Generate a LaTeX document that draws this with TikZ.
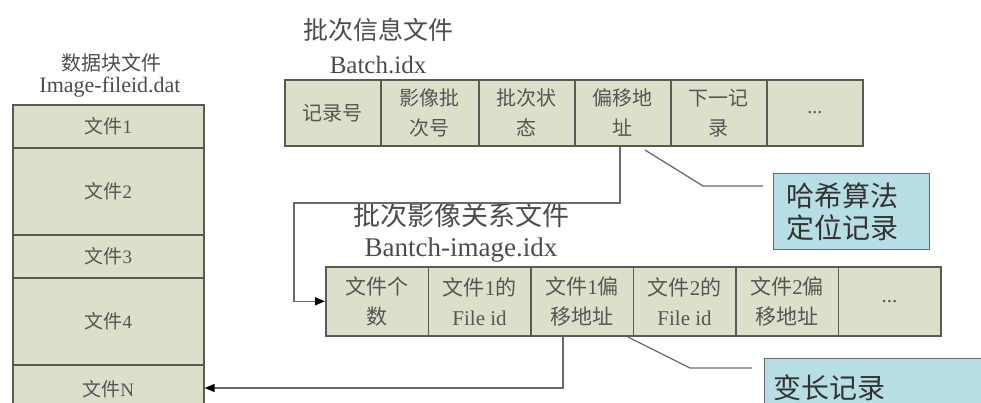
\documentclass[tikz,border=0pt]{standalone}
\usepackage{fontspec}
\setmainfont{Liberation Serif}
\newfontfamily\cjk{Noto Sans CJK SC}
\usetikzlibrary{arrows.meta}
\definecolor{cellfill}{HTML}{DEDFCB}
\definecolor{notefill}{HTML}{B8DEE5}
\definecolor{edge}{HTML}{5A5A55}
\definecolor{ink}{HTML}{555555}
\definecolor{wire}{HTML}{6A6A6A}
\newcommand{\zh}[1]{{\cjk #1}}
\begin{document}
\begin{tikzpicture}[x=1pt,y=-1pt,
  cell/.style={draw=edge, line width=1.6pt, fill=cellfill, inner sep=0pt,
    text=ink, align=center, anchor=north west,
    font=\fontsize{20}{30}\selectfont},
  blockcell/.style={cell, minimum width=191pt, font=\fontsize{19}{22}\selectfont},
  rowcell/.style={cell, minimum height=66pt},
  relcell/.style={cell, minimum height=69pt, minimum width=102.5pt,
    font=\fontsize{21}{30}\selectfont},
  note/.style={draw=wire, line width=1.2pt, fill=notefill, inner sep=0pt,
    anchor=north west},
  notetext/.style={anchor=west, inner sep=0pt, align=left, text=black!80,
    font=\fontsize{28}{32}\selectfont\cjk},
  title/.style={text=black!70, inner sep=0pt},
  wireline/.style={draw=wire, line width=1.3pt},
  arrowline/.style={wireline, -{Triangle[length=10pt,width=8pt,color=black,fill=black]}}
]
\useasboundingbox (0,0) rectangle (981,403);
\clip (0,0) rectangle (981,403);

% data block file
\node[title, font=\fontsize{20}{22}\selectfont\cjk] (dtitle) at (111,63) {数据块文件};
\node[title, font=\fontsize{22}{24}\selectfont] (dname) at (110,87) {Image-fileid.dat};
\node[blockcell, minimum height=43pt] (f1) at (12,104) {\zh{文件}1};
\node[blockcell, minimum height=87pt] (f2) at (12,147) {\zh{文件}2};
\node[blockcell, minimum height=43pt] (f3) at (12,234) {\zh{文件}3};
\node[blockcell, minimum height=87pt] (f4) at (12,277) {\zh{文件}4};
\node[blockcell, minimum height=48pt] (fN) at (12,364) {\zh{文件}N};

% batch information file
\node[title, font=\fontsize{25}{28}\selectfont\cjk] (btitle) at (378,30) {批次信息文件};
\node[title, font=\fontsize{25}{28}\selectfont] (bname) at (378,65) {Batch.idx};
\node[rowcell, minimum width=96pt] (b1) at (284,79) {\zh{记录号}};
\node[rowcell, minimum width=98pt] (b2) at (380,79) {\zh{影像批}\\\zh{次号}};
\node[rowcell, minimum width=96pt] (b3) at (478,79) {\zh{批次状}\\\zh{态}};
\node[rowcell, minimum width=96pt] (b4) at (574,79) {\zh{偏移地}\\\zh{址}};
\node[rowcell, minimum width=96pt] (b5) at (670,79) {\zh{下一记}\\\zh{录}};
\node[rowcell, minimum width=96pt] (b6) at (766,79) {...};

% batch-image relation file
\node[title, font=\fontsize{27}{30}\selectfont\cjk] (rtitle) at (461,215) {批次影像关系文件};
\node[title, font=\fontsize{27}{30}\selectfont] (rname) at (461,250) {Bantch-image.idx};
\node[relcell] (c1) at (325,266) {\zh{文件个}\\\zh{数}};
\node[relcell] (c2) at (427.5,266) {\zh{文件}1\zh{的}\\File id};
\node[relcell] (c3) at (530,266) {\zh{文件}1\zh{偏}\\\zh{移地址}};
\node[relcell] (c4) at (632.5,266) {\zh{文件}2\zh{的}\\File id};
\node[relcell] (c5) at (735,266) {\zh{文件}2\zh{偏}\\\zh{移地址}};
\node[relcell] (c6) at (837.5,266) {...};

% callouts
\node[note, minimum width=156pt, minimum height=76pt] (hash) at (773,173) {};
\node[notetext] (hashtext) at (786,212) {哈希算法\\定位记录};
\node[note, minimum width=240pt, minimum height=70pt] (varlen) at (764,358) {};
\node[notetext] (vartext) at (773,388) {变长记录};

% connectors
\coordinate (k1) at (294,203);
\coordinate (k2) at (563,388);
\draw[arrowline] (b4.south -| 620,0) -- (620,203) -- (k1) |- (c1.west);
\draw[arrowline] (c3.south -| k2) -- (k2) -- (fN.east |- k2);

\coordinate (h0) at (645,150);
\coordinate (h1) at (703,186);
\coordinate (h2) at (763,186);
\draw[wireline] (h0) -- (h1) -- (h2);
\coordinate (v0) at (628,337);
\coordinate (v1) at (690,368);
\coordinate (v2) at (752,368);
\draw[wireline] (v0) -- (v1) -- (v2);
\end{tikzpicture}
\end{document}
